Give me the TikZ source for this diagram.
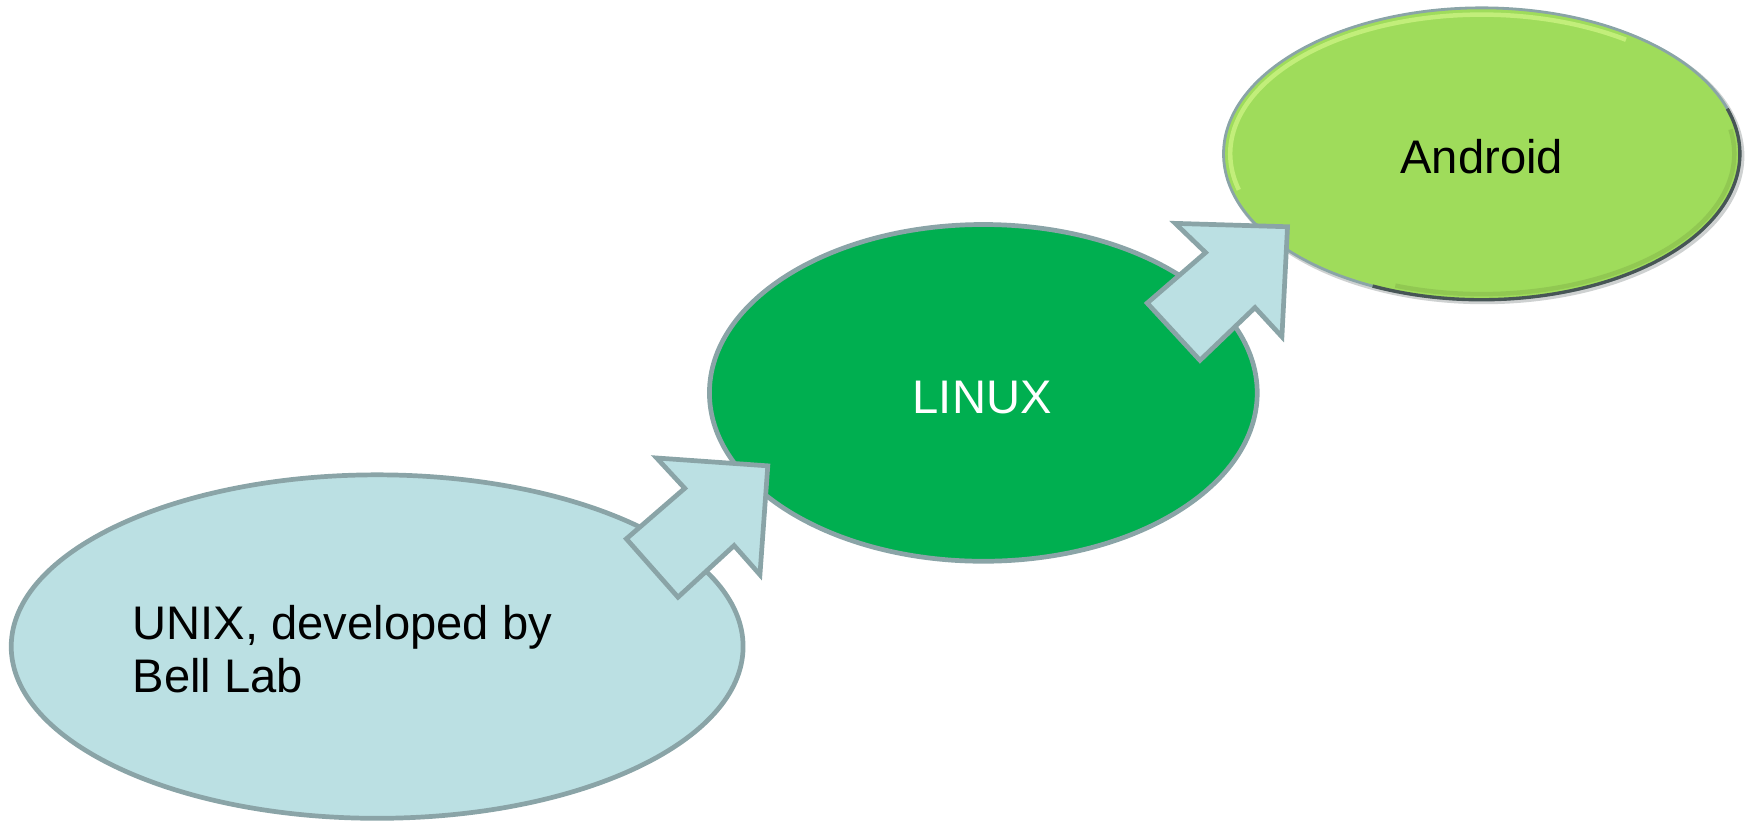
\documentclass[tikz,border=0pt]{standalone}
\usepackage{fontspec}
\setmainfont{Liberation Sans}
\usetikzlibrary{shapes.geometric}
\definecolor{lblue}{HTML}{BBE0E3}
\definecolor{edgec}{HTML}{8AA4A7}
\definecolor{dgreen}{HTML}{00AF50}
\definecolor{lgreen}{HTML}{9FDC5B}
\definecolor{hlgreen}{HTML}{C6F07E}
\definecolor{darkedge}{HTML}{3C4848}
\begin{document}
\begin{tikzpicture}[x=1pt,y=-1pt,
  ell/.style={ellipse, draw=edgec, line width=4.2pt, inner sep=0pt},
  blockarrow/.style={fill=lblue, draw=edgec, line width=4.2pt, line join=miter},
  lbl/.style={font=\fontsize{42}{47}\selectfont, inner sep=0pt}]
\useasboundingbox (0,0) rectangle (1559,731);
% UNIX
\node[ell, fill=lblue, minimum width=652pt, minimum height=306pt] (unix) at (336,576) {};
% LINUX
\node[ell, fill=dgreen, minimum width=488pt, minimum height=300pt] (linux) at (876,350) {};
% Android shadow
\fill[darkedge, opacity=0.25] (1322,139) ellipse [x radius=232pt, y radius=132pt];
\node[ell, fill=lgreen, line width=2.5pt, minimum width=460pt, minimum height=260pt] (android) at (1320,137) {};
\draw[darkedge, line width=3pt, opacity=0.85] (android.center) ++(-115:230pt and 130pt) arc[start angle=-115, end angle=18, x radius=230pt, y radius=130pt];
\draw[lgreen!75!black, line width=4pt, opacity=0.35] (android.center) ++(-110:225pt and 125pt) arc[start angle=-110, end angle=10, x radius=225pt, y radius=125pt];
\draw[hlgreen, line width=4pt, opacity=0.9] (android.center) ++(195:224pt and 124pt) arc[start angle=195, end angle=55, x radius=224pt, y radius=124pt];
% arrows
\draw[blockarrow] (585,408) -- (610,435) -- (558,480) -- (604,532) -- (654,486) -- (677,512) -- (684,415) -- cycle;
\draw[blockarrow] (1047,199) -- (1074,225) -- (1022,270) -- (1069,321) -- (1118,274) -- (1142,300) -- (1147,202) -- cycle;
% texts
\node[lbl, anchor=base west] (t1) at (118,570) {UNIX, developed by};
\node[lbl, anchor=base west] (t2) at (118,617) {Bell Lab};
\node[lbl, anchor=base, text=white] (t3) at (875,368) {LINUX};
\node[lbl, anchor=base] (t4) at (1320,155) {Android};
\end{tikzpicture}
\end{document}
